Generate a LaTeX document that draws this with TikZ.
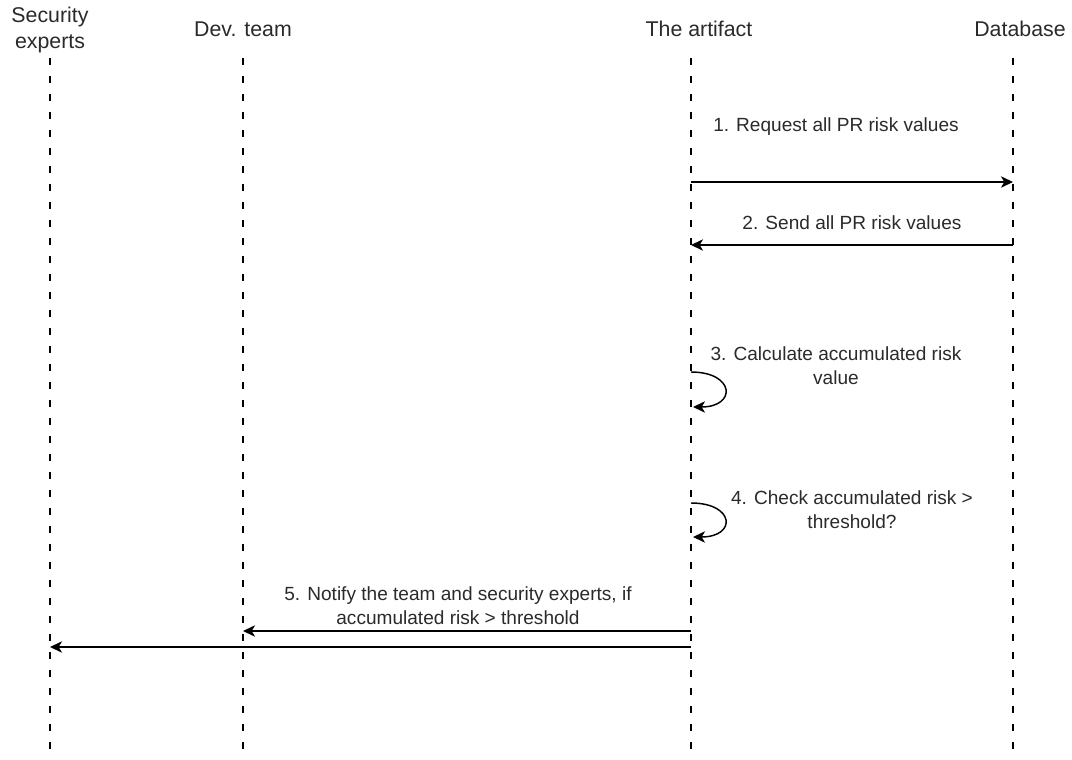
\documentclass[tikz,border=0pt]{standalone}
\usepackage{fontspec}
\setmainfont{Liberation Sans}
\usetikzlibrary{arrows.meta}
\definecolor{ink}{HTML}{2A2A2A}
\begin{document}
\begin{tikzpicture}[x=0.75pt,y=-0.75pt,
  head/.style={text=ink,font=\fontsize{16}{18.8}\selectfont,align=center,inner sep=0pt},
  msglabel/.style={text=ink,font=\fontsize{14.3}{18}\selectfont,align=center,inner sep=0pt},
  lifeline/.style={line width=2.1pt,dash pattern=on 5.5pt off 8pt,black},
  msg/.style={line width=1.1pt,black,-{Stealth[length=9pt,width=8.5pt,inset=2.5pt]}}]
\useasboundingbox (0,0) rectangle (1072,760);

% participants
\node[head] (sec) at (50,30) {Security\\experts};
\node[head] (dev) at (243,29) {Dev. team};
\node[head] (art) at (699,29) {The artifact};
\node[head] (db)  at (1020,29) {Database};

% lifeline ends
\coordinate (secT) at (50,58);  \coordinate (secB) at (50,760);
\coordinate (devT) at (243,58); \coordinate (devB) at (243,760);
\coordinate (artT) at (691,58); \coordinate (artB) at (691,760);
\coordinate (dbT)  at (1013,58); \coordinate (dbB) at (1013,760);

\draw[lifeline] (secT) -- (secB);
\draw[lifeline] (devT) -- (devB);
\draw[lifeline] (artT) -- (artB);
\draw[lifeline] (dbT) -- (dbB);

% message anchors on the lifelines
\coordinate (art1) at (691,182); \coordinate (db1) at (1013,182);
\coordinate (db2) at (1013,245); \coordinate (art2) at (691,245);
\coordinate (art3s) at (691,372); \coordinate (art3e) at (693,407);
\coordinate (art4s) at (691,503); \coordinate (art4e) at (693,537);
\coordinate (art5a) at (691,631); \coordinate (dev5) at (243,631);
\coordinate (art5b) at (691,647); \coordinate (sec5) at (50,647);

% messages
\draw[msg] (art1) -- (db1);
\node[msglabel] (m1) at (836,127) {1. Request all PR risk values};

\draw[msg] (db2) -- (art2);
\node[msglabel] (m2) at (852,223) {2. Send all PR risk values};

\draw[msg] (art3s) .. controls +(44,0) and +(44,0) .. (art3e);
\node[msglabel] (m3) at (836,366) {3. Calculate accumulated risk\\value};

\draw[msg] (art4s) .. controls +(44,0) and +(44,0) .. (art4e);
\node[msglabel] (m4) at (852,510) {4. Check accumulated risk >\\threshold?};

\draw[msg] (art5a) -- (dev5);
\draw[msg] (art5b) -- (sec5);
\node[msglabel] (m5) at (458,606) {5. Notify the team and security experts, if\\accumulated risk > threshold};
\end{tikzpicture}
\end{document}
